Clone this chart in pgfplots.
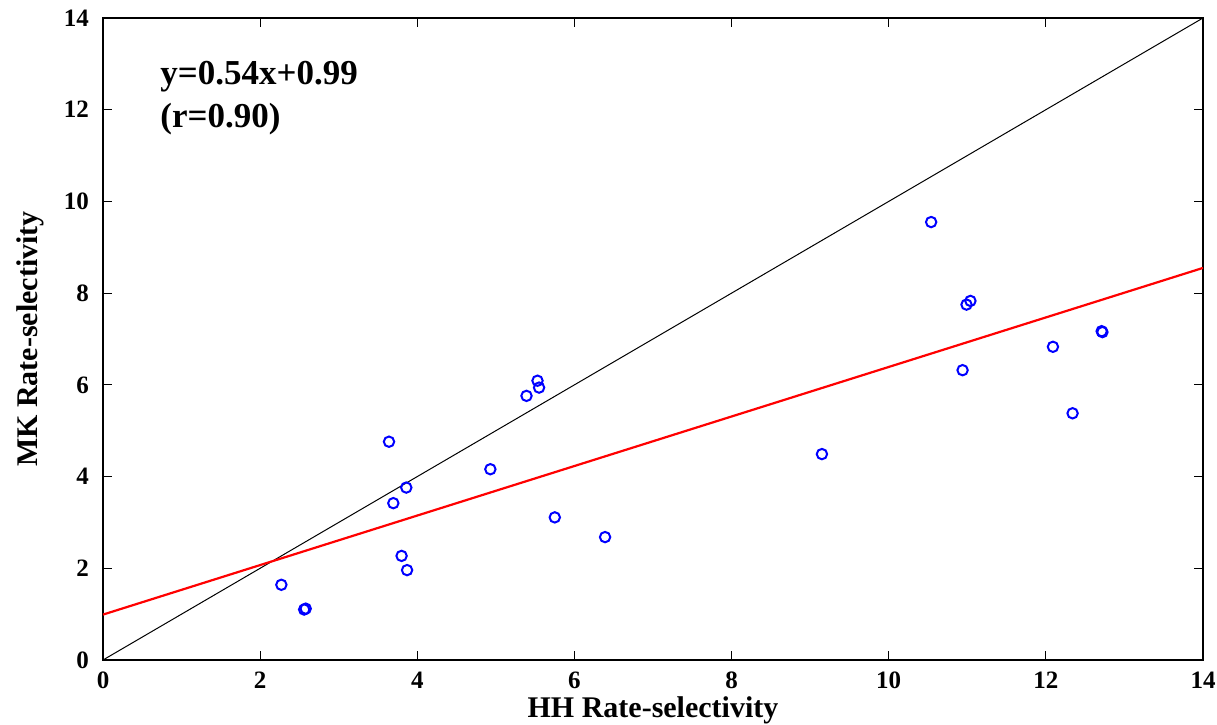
\documentclass[border=0pt]{standalone}
\usepackage{fontspec}
\setmainfont{Liberation Serif}
\usepackage{pgfplots}
\pgfplotsset{compat=1.18}
\begin{document}
\begin{tikzpicture}
\begin{axis}[
  width=550pt, height=321pt,
  scale only axis,
  xmin=0, xmax=14, ymin=0, ymax=14,
  xtick={0,2,...,14}, ytick={0,2,...,14},
  tick align=inside,
  major tick length=4.5pt,
  axis line style={line width=1.3pt},
  every tick/.style={black, line width=0.5pt},
  /pgf/number format/assume math mode=true,
  ticklabel style={font=\bfseries\fontsize{12.5}{14}\selectfont},
  xticklabel style={yshift=-2.5pt},
  yticklabel style={xshift=-3.5pt},
  xlabel={HH Rate-selectivity},
  ylabel={MK Rate-selectivity},
  label style={font=\bfseries\fontsize{15}{18}\selectfont},
  xlabel style={at={(axis description cs:0.5,0)}, anchor=base, yshift=-29pt},
  ylabel style={at={(axis description cs:0,0.5)}, anchor=base, yshift=32.5pt},
  clip=true,
]
\addplot[black, line width=0.5pt] coordinates {(0,0) (14,14)};
\addplot[red, line width=1.1pt] coordinates {(0,0.99) (14,8.55)};
\addplot[only marks, mark=o, mark size=2.6pt, blue, mark options={line width=1pt}] coordinates {
(2.27,1.64) (2.56,1.10) (2.58,1.12) (3.64,4.76) (3.695,3.42) (3.80,2.27)
(3.86,3.76) (3.87,1.96) (4.93,4.16) (5.39,5.76) (5.53,6.09) (5.55,5.94)
(5.75,3.11) (6.39,2.68) (9.15,4.49) (10.54,9.55) (10.94,6.32) (10.99,7.75)
(11.04,7.83) (12.09,6.83) (12.34,5.38) (12.71,7.17) (12.72,7.15)
};
\node[anchor=base west, font=\bfseries\fontsize{17.5}{21}\selectfont, inner sep=0pt] at (axis cs:0.725,12.54) {y=0.54x+0.99};
\node[anchor=base west, font=\bfseries\fontsize{17.5}{21}\selectfont, inner sep=0pt] at (axis cs:0.725,11.62) {(r=0.90)};
\coordinate (sw) at (rel axis cs:0,0);
\coordinate (ne) at (rel axis cs:1,1);
\end{axis}
\pgfresetboundingbox
\path ([shift={(-51.5pt,-32.5pt)}]sw) rectangle ([shift={(7pt,9pt)}]ne);
\end{tikzpicture}
\end{document}
